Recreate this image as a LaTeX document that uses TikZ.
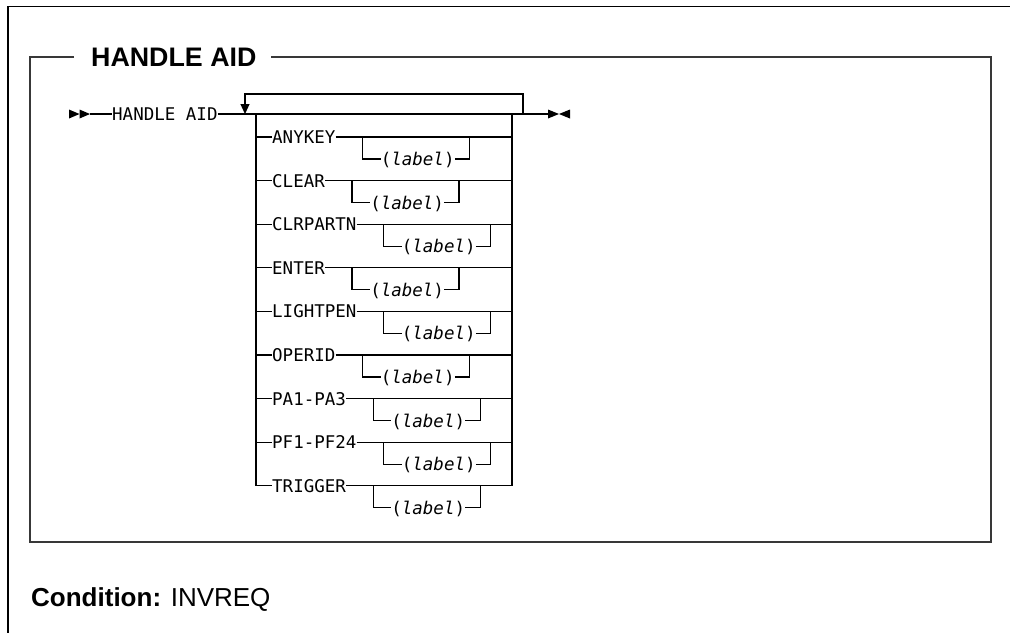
\documentclass[tikz,border=0pt]{standalone}
\usepackage{fontspec}
\setmainfont{Liberation Sans}
\newfontfamily\rrfont{DejaVu Sans Mono}
\usetikzlibrary{arrows.meta,calc}
\begin{document}
\begin{tikzpicture}[x=1pt,y=-1pt,
  rr/.style={line width=1.2pt},
  boxline/.style={line width=2pt, draw=black!78},
  frameline/.style={line width=1.5pt, draw=black},
  kw/.style={font=\rrfont\fontsize{17.5pt}{20pt}\selectfont, inner sep=0pt, anchor=west, text height=12.8pt, text depth=0pt},
  titlefont/.style={font=\bfseries\fontsize{26.8pt}{30pt}\selectfont, inner sep=0pt, anchor=west, text height=19.2pt, text depth=0pt},
  condfont/.style={font=\fontsize{26pt}{30pt}\selectfont, inner sep=0pt, anchor=west, text height=18.6pt, text depth=0pt},
  tip/.style={fill=black}]
\useasboundingbox (0,0) rectangle (1010,633);
% outer frame
\draw[frameline] (1010,6.5) -- (8,6.5) -- (8,633);
% inner box with title
\node[titlefont] (title) at (91,57) {HANDLE AID};
\draw[boxline] ([xshift=-17pt]title.west) -- (30,57) -- (30,542) -- (991,542) -- (991,57) -- ([xshift=14pt]title.east);
% condition
\node[condfont] (cond) at (31,597) {\textbf{Condition:} INVREQ};
% start
\fill[tip] (69,109.5) -- (79.5,114) -- (69,118.5) -- cycle;
\fill[tip] (79.5,109.5) -- (90,114) -- (79.5,118.5) -- cycle;
\coordinate (s) at (90,114);
\node[kw] (hd) at (112,114) {HANDLE AID};
\draw[rr] (s) -- (hd.west);
\coordinate (e) at (548,114);
\draw[rr] (hd.east) -- (e);
% end
\fill[tip] (548,109.5) -- (559,114) -- (548,118.5) -- cycle;
\fill[tip] (570,109.5) -- (559,114) -- (570,118.5) -- cycle;
% repeat loop
\coordinate (lt) at (523,114);
\coordinate (la) at (245,114);
\draw[rr,-{Triangle[width=9pt,length=10pt]}] (lt) -- ++(0,-20) -| (la);
% choices
\foreach \i/\t/\y in {1/ANYKEY/137,2/CLEAR/180.6,3/CLRPARTN/224.2,4/ENTER/267.8,5/LIGHTPEN/311.4,6/OPERID/355,7/PA1-PA3/398.6,8/PF1-PF24/442.2,9/TRIGGER/485.8}{
  \node[kw] (k\i) at (272,\y) {\t};
  \coordinate (L\i) at (256,\y);
  \coordinate (R\i) at (512,\y);
  \draw[rr] (L\i) -- (k\i.west);
  \draw[rr] (k\i.east) -- (R\i);
  \node[kw] (lb\i) at ($(k\i.east)+(45,22)$) {(\textit{label})};
  \draw[rr] ($(k\i.east)+(27,0)$) |- (lb\i.west);
  \draw[rr] (lb\i.east) -| ($(k\i.east)+(134,0)$);
}
\coordinate (L0) at (256,114);
\coordinate (R0) at (512,114);
\draw[rr] (L0) -- (L9);
\draw[rr] (R0) -- (R9);
\end{tikzpicture}
\end{document}
